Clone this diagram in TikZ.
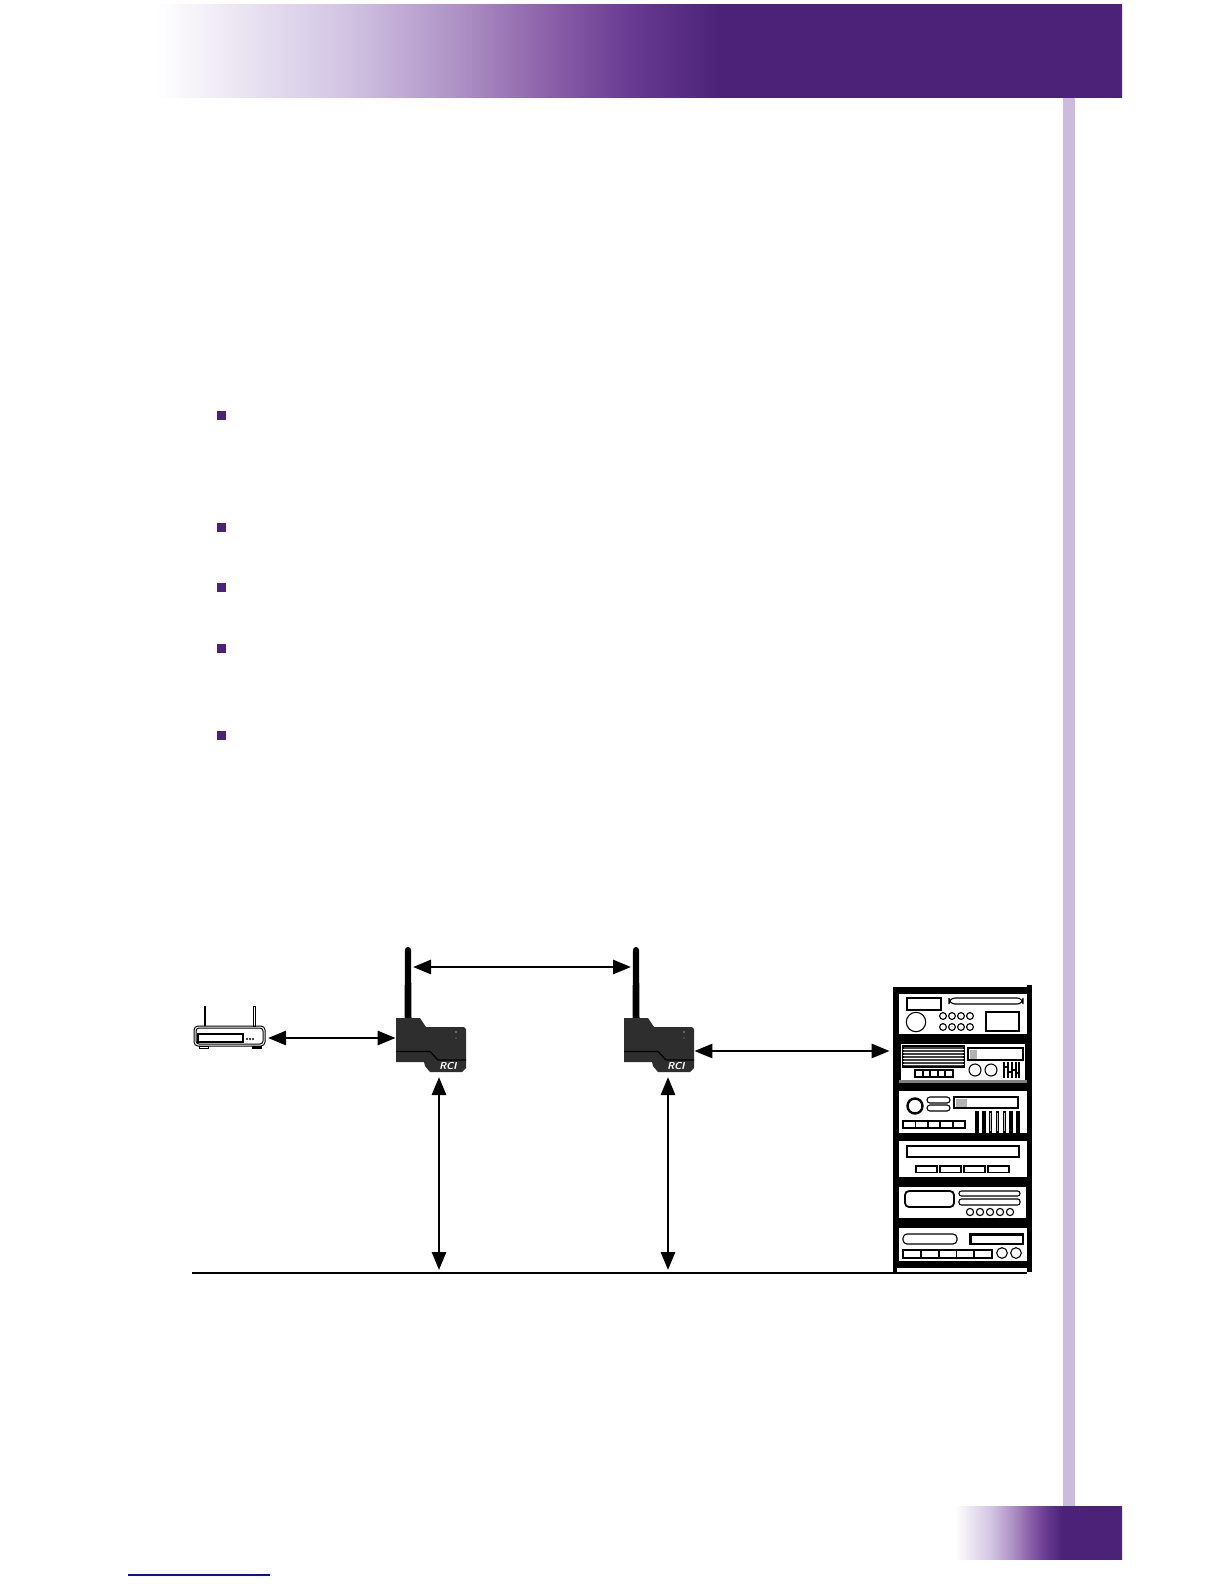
\documentclass[tikz,border=0pt]{standalone}
\usepackage{tikz}
\usetikzlibrary{arrows,arrows.meta}
\definecolor{brandpurple}{HTML}{4C2279}
\definecolor{stripcolor}{HTML}{CBBCDD}
\definecolor{bridgegray}{HTML}{2E2E2E}
\definecolor{linkblue}{HTML}{10109A}
\definecolor{shadeA}{HTML}{D3C6E4}
\definecolor{shadeB}{HTML}{AE92C5}
\definecolor{shadeC}{HTML}{8A5FA8}
\definecolor{shadeD}{HTML}{693B92}
\pgfdeclarehorizontalshading{headershade}{100bp}{color(0bp)=(white); color(25bp)=(white); color(34.6bp)=(shadeA); color(40.6bp)=(shadeB); color(45.5bp)=(shadeC); color(49.5bp)=(shadeD); color(54.1bp)=(brandpurple); color(100bp)=(brandpurple)}
\pgfdeclarehorizontalshading{footershade}{100bp}{color(0bp)=(white); color(25bp)=(white); color(35.6bp)=(shadeA); color(42.1bp)=(shadeB); color(47.5bp)=(shadeC); color(52bp)=(shadeD); color(57bp)=(brandpurple); color(100bp)=(brandpurple)}
\tikzset{
	link/.style={line width=1.4pt,arrows={Triangle[length=9pt,width=7pt]-Triangle[length=9pt,width=7pt]}},
	bullet/.style={fill=brandpurple,draw=none,minimum size=4.5pt,inner sep=0pt},
	bridgebox/.style={minimum width=35pt,minimum height=27pt,inner sep=0pt},
	unitbox/.style={fill=white,draw=none},
	part/.style={draw=black,line width=0.55pt,fill=white},
	partthick/.style={draw=black,line width=0.9pt,fill=white},
}
\newcommand{\drawbridge}[2]{%
	\begin{scope}[shift={(#1,1018)}]
		\fill[black] (12,-68) circle (3);
		\fill[black] (9,-68) -- (15,-68) -- (15.5,0) -- (8.5,0) -- cycle;
		\fill[bridgegray] (0,0) -- (24,0) -- (30,9) -- (68,9) -- (70,11) -- (70,50) -- (66,54) -- (34,54) -- (29,48) -- (28,44) -- (0,44) -- cycle;
		\draw[black,line width=0.6pt] (0,33.5) -- (34,33.5) -- (42,42) -- (70,42);
		\fill[gray!70] (60,14) circle (0.9) (60,20) circle (0.7);
		\node (#2logo) at (52,48) [text=white,inner sep=0pt] {\fontsize{5}{5}\selectfont\sffamily\bfseries\itshape RCI};
	\end{scope}
}
\begin{document}
\begin{tikzpicture}[x=0.5pt,y=-0.5pt]
	\useasboundingbox (0,0) rectangle (1224,1584);
	%page furniture
	\shade[shading=headershade] (155,5) rectangle (1122,98);
	\fill[stripcolor] (1063,98) rectangle (1075,1507);
	\shade[shading=footershade] (955,1506) rectangle (1122,1559);
	\draw[linkblue,line width=0.6pt] (128,1575) -- (270,1575);
	\foreach \n/\y in {a/415.5,b/527,c/587,d/648,e/735}
		\node (bullet\n) at (221,\y) [bullet] {};

	%router
	\node (R) at (229.5,1036) [draw,line width=0.5pt,rounded corners=2pt,minimum width=35.5pt,minimum height=10pt,inner sep=0pt] {};
	\draw[line width=0.5pt,rounded corners=1.5pt] (196,1028) rectangle (263,1044);
	\draw[line width=0.6pt] (198,1034) rectangle (243,1042);
	\foreach \x in {247,250,253}
		\fill (\x,1039) circle (1.1);
	\draw[line width=1pt] (205,1006) -- (205,1026);
	\draw[line width=0.4pt] (253,1006) rectangle (255,1026);
	\draw[line width=0.4pt] (199,1046) rectangle (208,1048.5);
	\fill (252,1046) rectangle (262,1048.5);

	%bridges
	\node (B1) at (431,1045) [bridgebox] {};
	\node (B2) at (659,1045) [bridgebox] {};
	\drawbridge{396}{B1}
	\drawbridge{624}{B2}

	%rack
	\node (S) at (962.5,1129.5) [fill=black,minimum width=69.5pt,minimum height=142.5pt,inner sep=0pt] {};
	\fill (1027,985) rectangle (1032,990);
	\foreach \t/\b in {994/1034,1043/1083,1091/1133,1141/1177,1186/1220,1228/1261}
		\fill[unitbox] (899,\t) rectangle (1027,\b);
	\fill[white] (897,1268) rectangle (1027,1272);

	%unit 1
	\draw[part,line width=0.8pt] (907,998) rectangle (941,1010);
	\draw[part,rounded corners=3pt] (949,998) rectangle (1023,1004);
	\draw[part] (916,1022) circle (9.7);
	\foreach \x in {943,952,961,970}
		\foreach \y in {1016,1027}
			\draw[part] (\x,\y) circle (3.4);
	\draw[partthick] (986,1012) rectangle (1019,1031);

	%unit 2
	\draw[part] (900,1043.5) rectangle (1026,1083);
	\fill[gray] (899,1080) rectangle (1027,1083);
	\draw[part,fill=black!75] (903,1046) rectangle (964,1067);
	\foreach \y in {1049,1052,1055,1058,1061,1064}
		\draw[white,line width=0.3pt] (903,\y) -- (964,\y);
	\foreach \x in {915,923,930,938,945}
		\draw[partthick] (\x,1070) rectangle +(7.6,7);
	\draw[partthick] (968,1048) rectangle (1023,1060);
	\fill[gray!60] (970,1049.5) rectangle (977,1058.5);
	\draw[part] (975,1070) circle (6) (991,1070) circle (6);
	\foreach \x in {1004,1008,1012,1016,1019}
		\draw[line width=0.9pt] (\x,1062) -- (\x,1078);
	\foreach \x/\y in {1006/1066,1010/1071,1014/1069,1017/1072}
		\fill (\x-1.5,\y) rectangle +(3,2);

	%unit 3
	\draw[line width=1.2pt,fill=white] (915,1106) circle (7.5);
	\draw[part,rounded corners=1.5pt] (927,1097) rectangle (950,1103);
	\draw[part,rounded corners=1.5pt] (927,1105) rectangle (950,1111);
	\draw[partthick] (954,1097) rectangle (1018,1108);
	\fill[gray!60] (955.5,1098.5) rectangle (967,1106.5);
	\foreach \x in {903,915.4,927.8,940.2,952.6}
		\draw[partthick] (\x,1121) rectangle +(12.4,7);
	\foreach \x in {977,983.8,990.6,997.4,1004.2,1011,1017.8}
		\draw[line width=0.7pt,fill=gray!50] (\x-1,1112) rectangle (\x+1,1132);

	%unit 4
	\draw[part,line width=0.7pt] (907,1146) rectangle (1019,1157);
	\foreach \x in {916,940,964,988}
		\draw[part,line width=0.7pt] (\x,1166) rectangle +(21,6.5);

	%unit 5
	\draw[part] (898,1186) rectangle (1027,1219);
	\draw[partthick,rounded corners=2pt] (905,1191) rectangle (954,1207);
	\draw[part,rounded corners=1.2pt] (959,1191) rectangle (1020,1196);
	\draw[part,rounded corners=1.2pt] (959,1199) rectangle (1020,1205);
	\foreach \x in {970,980,990,1000,1010}
		\draw[part] (\x,1212) circle (3.6);

	%unit 6
	\draw[part,rounded corners=2pt] (903,1234) rectangle (957,1244);
	\draw[partthick,line width=1.1pt] (970.5,1234.5) rectangle (1023,1244);
	\foreach \x in {903,920.8,938.6,956.4,974.2}
		\draw[partthick] (\x,1250) rectangle +(17.8,8);
	\draw[part] (1002,1253) circle (5.3) (1016,1253) circle (5.3);

	%bus line and end points
	\coordinate (busL) at (192,1272.5);
	\coordinate (busR) at (1027,1272.5);
	\coordinate (B1top) at (413,967);
	\coordinate (B2top) at (631,967);
	\coordinate (B1low) at (439,1077);
	\coordinate (B2low) at (668,1077);
	\coordinate (bus1) at (439,1270);
	\coordinate (bus2) at (668,1270);
	\draw[line width=1pt] (busL) -- (busR);

	%links
	\draw[link] (268,1038) coordinate (Rport) -- (B1.west |- Rport);
	\draw[link] (B1top) -- (B2top);
	\draw[link] (B2.east |- 0,1051) coordinate (B2port) -- ([xshift=-1.5pt]S.west |- B2port);
	\draw[link] (B1low) -- (bus1);
	\draw[link] (B2low) -- (bus2);
\end{tikzpicture}
\end{document}
